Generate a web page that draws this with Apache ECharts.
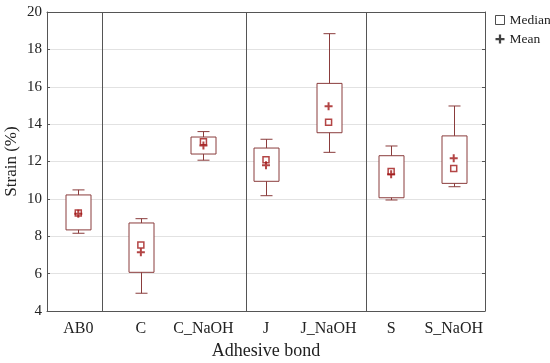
<!DOCTYPE html>
<html><head><meta charset="utf-8">
<script src="https://cdn.jsdelivr.net/npm/echarts@6/dist/echarts.min.js"></script>
<style>html,body{margin:0;padding:0;background:#fff}#c{width:550px;height:363px}</style>
</head><body><div id="c"></div>
<script>
const categories = ['AB0','C','C_NaOH','J','J_NaOH','S','S_NaOH'];
const whiskerLow = [8.16, 4.95, 12.07, 10.17, 12.49, 9.94, 10.65];
const q1 = [8.34, 6.07, 12.40, 10.94, 13.54, 10.06, 10.83];
const q3 = [10.21, 8.71, 13.31, 12.72, 16.18, 12.31, 13.37];
const whiskerHigh = [10.48, 8.94, 13.60, 13.19, 18.84, 12.83, 14.97];
const medians = [9.25, 7.53, 13.06, 12.10, 14.10, 11.46, 11.62];
const means = [9.20, 7.14, 12.85, 11.80, 14.95, 11.32, 12.17];
const yTicks = [4, 6, 8, 10, 12, 14, 16, 18, 20];
const separators = [0.39, 2.68, 4.60];

const FONT = '"Liberation Serif", "DejaVu Serif", serif';
const boxColor = '#8a3c3c';
const markColor = '#a01616';
const frameColor = '#555';
const crossPath = 'path://M3,0 H5 V3 H8 V5 H5 V8 H3 V5 H0 V3 H3 Z';

const boxData = categories.map((c, i) => [i, whiskerLow[i], q1[i], q3[i], whiskerHigh[i]]);

const chart = echarts.init(document.getElementById('c'));
chart.setOption({
  animation: false,
  grid: { left: 47, right: 65, top: 12, bottom: 52, containLabel: false, outerBoundsMode: 'none' },
  legend: {
    orient: 'vertical', left: 490, top: 8, itemGap: 5, itemWidth: 9, itemHeight: 9,
    textStyle: { fontFamily: FONT, fontSize: 13.5, color: '#222' },
    data: [
      { name: 'Median', icon: 'rect', itemStyle: { color: '#fff', borderColor: '#222', borderWidth: 1 } },
      { name: 'Mean', icon: crossPath, itemStyle: { color: '#111', borderWidth: 0 } }
    ]
  },
  xAxis: [
    { type: 'category', data: categories, position: 'bottom',
      name: 'Adhesive bond', nameLocation: 'middle', nameGap: 31, nameMoveOverlap: false,
      nameTextStyle: { fontFamily: FONT, fontSize: 18, color: '#222' },
      axisLine: { onZero: false, lineStyle: { color: frameColor } },
      axisTick: { inside: true, alignWithLabel: true, length: 3, lineStyle: { color: frameColor } },
      axisLabel: { interval: 0, fontFamily: FONT, fontSize: 16, color: '#222', margin: 10 },
      splitLine: { show: false } },
    { type: 'category', data: categories, position: 'top',
      axisLine: { onZero: false, lineStyle: { color: frameColor } },
      axisTick: { inside: true, alignWithLabel: true, length: 3, lineStyle: { color: frameColor } },
      axisLabel: { show: false } },
    { type: 'value', min: -0.5, max: 6.5, show: false }
  ],
  yAxis: [
    { type: 'value', min: yTicks[0], max: yTicks[yTicks.length - 1], interval: 2,
      name: 'Strain (%)', nameLocation: 'middle', nameGap: 27, nameMoveOverlap: false,
      nameTextStyle: { fontFamily: FONT, fontSize: 17, color: '#222' },
      axisLine: { show: true, onZero: false, lineStyle: { color: frameColor } },
      axisTick: { show: true, inside: true, length: 3, lineStyle: { color: frameColor } },
      axisLabel: { fontFamily: FONT, fontSize: 15, color: '#222', margin: 5 },
      splitLine: { show: true, lineStyle: { color: '#e2e2e2', width: 1 } } },
    { type: 'value', min: yTicks[0], max: yTicks[yTicks.length - 1], interval: 2, position: 'right',
      axisLine: { show: true, onZero: false, lineStyle: { color: frameColor } },
      axisTick: { show: true, inside: true, length: 3, lineStyle: { color: frameColor } },
      axisLabel: { show: false }, splitLine: { show: false } }
  ],
  series: [
    { type: 'line', xAxisIndex: 2, yAxisIndex: 0, data: [], silent: true,
      markLine: { symbol: 'none', silent: true, label: { show: false },
        lineStyle: { color: frameColor, type: 'solid', width: 1 },
        data: separators.map(v => ({ xAxis: v })) } },
    { type: 'custom', xAxisIndex: 0, yAxisIndex: 0, data: boxData,
      renderItem: function (params, api) {
        const x = api.value(0);
        const pLow = api.coord([x, api.value(1)]);
        const pQ1 = api.coord([x, api.value(2)]);
        const pQ3 = api.coord([x, api.value(3)]);
        const pHigh = api.coord([x, api.value(4)]);
        const hw = 12.5, cw = 6;
        const cx = Math.round(pLow[0]) + 0.5;
        const st = { stroke: boxColor, lineWidth: 1, fill: null };
        return { type: 'group', children: [
          { type: 'rect', shape: { x: cx - hw, y: pQ3[1], width: hw * 2, height: pQ1[1] - pQ3[1] }, style: { stroke: boxColor, lineWidth: 1, fill: '#fff' } },
          { type: 'line', shape: { x1: cx, y1: pQ3[1], x2: cx, y2: pHigh[1] }, style: st },
          { type: 'line', shape: { x1: cx, y1: pQ1[1], x2: cx, y2: pLow[1] }, style: st },
          { type: 'line', shape: { x1: cx - cw, y1: pHigh[1], x2: cx + cw, y2: pHigh[1] }, style: st },
          { type: 'line', shape: { x1: cx - cw, y1: pLow[1], x2: cx + cw, y2: pLow[1] }, style: st }
        ] };
      }, z: 2 },
    { name: 'Median', type: 'scatter', xAxisIndex: 0, yAxisIndex: 0,
      data: medians.map((v, i) => [i, v]), symbol: 'rect', symbolSize: 6,
      itemStyle: { color: '#fff', borderColor: markColor, borderWidth: 1.5 }, z: 3 },
    { name: 'Mean', type: 'scatter', xAxisIndex: 0, yAxisIndex: 0,
      data: means.map((v, i) => [i, v]), symbol: crossPath, symbolSize: 8,
      itemStyle: { color: markColor }, z: 4 }
  ]
});
</script></body></html>
